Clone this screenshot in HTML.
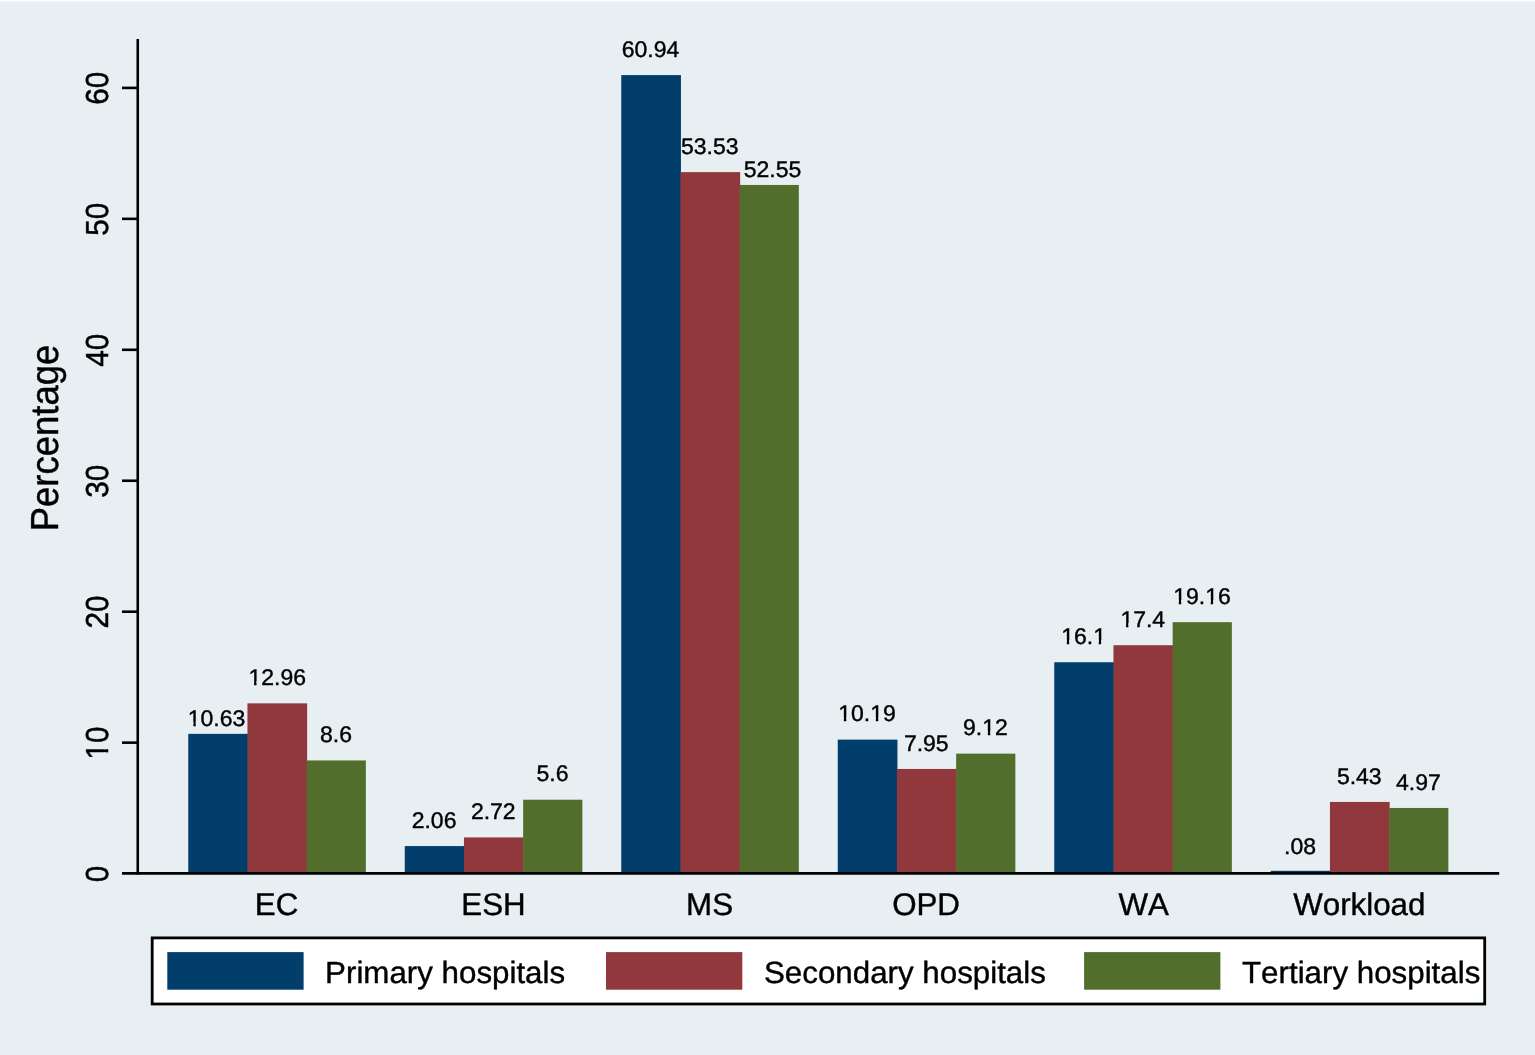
<!DOCTYPE html>
<html lang="en"><head><meta charset="utf-8"><title>Percentage by hospital level</title>
<style>
html,body{margin:0;padding:0;background:#e8eff2;}
body{width:1535px;height:1055px;overflow:hidden;}
svg{display:block;}
text{font-family:"Liberation Sans",sans-serif;fill:#000;text-rendering:geometricPrecision;font-kerning:none;}
</style></head><body>
<svg width="1535" height="1055" viewBox="0 0 1535 1055">
<rect x="0" y="0" width="1535" height="1055" fill="#e8eff2"/>
<rect x="0" y="0" width="1535" height="1" fill="#f8fcfd"/>
<rect x="0" y="1" width="1535" height="1" fill="#eff3f5"/>
<rect x="0" y="2" width="1535" height="2" fill="#e9eef1"/>
<g shape-rendering="geometricPrecision">
<rect x="188.25" y="733.86" width="59.70" height="139.54" fill="#023e6c"/>
<rect x="247.45" y="703.35" width="59.70" height="170.05" fill="#90383c"/>
<rect x="306.65" y="760.44" width="59.20" height="112.96" fill="#526e2c"/>
<rect x="404.75" y="846.08" width="59.70" height="27.32" fill="#023e6c"/>
<rect x="463.95" y="837.43" width="59.70" height="35.97" fill="#90383c"/>
<rect x="523.15" y="799.72" width="59.20" height="73.68" fill="#526e2c"/>
<rect x="621.25" y="75.10" width="59.70" height="798.30" fill="#023e6c"/>
<rect x="680.45" y="172.13" width="59.70" height="701.27" fill="#90383c"/>
<rect x="739.65" y="184.96" width="59.20" height="688.44" fill="#526e2c"/>
<rect x="837.75" y="739.62" width="59.70" height="133.78" fill="#023e6c"/>
<rect x="896.95" y="768.95" width="59.70" height="104.45" fill="#90383c"/>
<rect x="956.15" y="753.63" width="59.20" height="119.77" fill="#526e2c"/>
<rect x="1054.25" y="662.24" width="59.70" height="211.16" fill="#023e6c"/>
<rect x="1113.45" y="645.21" width="59.70" height="228.19" fill="#90383c"/>
<rect x="1172.65" y="622.17" width="59.20" height="251.23" fill="#526e2c"/>
<rect x="1270.75" y="870.80" width="59.70" height="2.60" fill="#023e6c"/>
<rect x="1329.95" y="801.95" width="59.70" height="71.45" fill="#90383c"/>
<rect x="1389.15" y="807.97" width="59.20" height="65.43" fill="#526e2c"/>
</g>
<g stroke="#000" stroke-width="2.60" fill="none">
<line x1="137.75" y1="39" x2="137.75" y2="874.5"/>
<line x1="122" y1="873.40" x2="1499.2" y2="873.40"/>
<line x1="122" y1="742.65" x2="137.6" y2="742.65"/>
<line x1="122" y1="611.70" x2="137.6" y2="611.70"/>
<line x1="122" y1="480.75" x2="137.6" y2="480.75"/>
<line x1="122" y1="349.80" x2="137.6" y2="349.80"/>
<line x1="122" y1="218.85" x2="137.6" y2="218.85"/>
<line x1="122" y1="87.90" x2="137.6" y2="87.90"/>
</g>
<g font-size="29.70" text-anchor="middle" stroke="#000" stroke-width="0.5">
<g transform="translate(108.3 874.00) rotate(-90) scale(1 1.070)"><text>0</text></g>
<g transform="translate(108.3 743.05) rotate(-90) scale(1 1.070)"><text>10</text><rect x="-15.61" y="-4.47" width="6.31" height="6.72" fill="#e8eff2" stroke="none"/><rect x="-6.17" y="-4.47" width="6.07" height="6.72" fill="#e8eff2" stroke="none"/></g>
<g transform="translate(108.3 612.10) rotate(-90) scale(1 1.070)"><text>20</text></g>
<g transform="translate(108.3 481.15) rotate(-90) scale(1 1.070)"><text>30</text></g>
<g transform="translate(108.3 350.20) rotate(-90) scale(1 1.070)"><text>40</text></g>
<g transform="translate(108.3 219.25) rotate(-90) scale(1 1.070)"><text>50</text></g>
<g transform="translate(108.3 88.30) rotate(-90) scale(1 1.070)"><text>60</text></g>
</g>
<text font-size="36.50" text-anchor="middle" stroke="#000" stroke-width="0.4" transform="translate(58.2 438.0) rotate(-90) scale(1 1.070)">Percentage</text>
<g font-size="31.30" text-anchor="middle" stroke="#000" stroke-width="0.4">
<text x="276.55" y="915.0">EC</text>
<text x="493.55" y="915.0">ESH</text>
<text x="709.55" y="915.0">MS</text>
<text x="926.05" y="915.0">OPD</text>
<text x="1143.65" y="915.0">WA</text>
<text x="1359.35" y="915.0">Workload</text>
</g>
<g font-size="23.00" text-anchor="middle" stroke="#000" stroke-width="0.4">
<g transform="translate(216.55 725.56) scale(1 0.980)"><text>10.63</text><rect x="-28.33" y="-3.92" width="5.13" height="6.12" fill="#e8eff2" stroke="none"/><rect x="-20.76" y="-3.92" width="4.95" height="6.12" fill="#e8eff2" stroke="none"/></g>
<g transform="translate(277.25 685.05) scale(1 0.980)"><text>12.96</text><rect x="-28.33" y="-3.92" width="5.13" height="6.12" fill="#e8eff2" stroke="none"/><rect x="-20.76" y="-3.92" width="4.95" height="6.12" fill="#e8eff2" stroke="none"/></g>
<g transform="translate(335.95 742.14) scale(1 0.980)"><text>8.6</text></g>
<g transform="translate(434.05 827.78) scale(1 0.980)"><text>2.06</text></g>
<g transform="translate(493.25 819.13) scale(1 0.980)"><text>2.72</text></g>
<g transform="translate(552.45 781.42) scale(1 0.980)"><text>5.6</text></g>
<g transform="translate(650.55 56.80) scale(1 0.980)"><text>60.94</text></g>
<g transform="translate(709.75 153.83) scale(1 0.980)"><text>53.53</text></g>
<g transform="translate(772.55 176.66) scale(1 0.980)"><text>52.55</text></g>
<g transform="translate(867.05 721.32) scale(1 0.980)"><text>10.19</text><rect x="-28.33" y="-3.92" width="5.13" height="6.12" fill="#e8eff2" stroke="none"/><rect x="-20.76" y="-3.92" width="4.95" height="6.12" fill="#e8eff2" stroke="none"/><rect x="3.65" y="-3.92" width="5.13" height="6.12" fill="#e8eff2" stroke="none"/><rect x="11.21" y="-3.92" width="4.95" height="6.12" fill="#e8eff2" stroke="none"/></g>
<g transform="translate(926.25 750.65) scale(1 0.980)"><text>7.95</text></g>
<g transform="translate(985.45 735.33) scale(1 0.980)"><text>9.12</text><rect x="-2.75" y="-3.92" width="5.13" height="6.12" fill="#e8eff2" stroke="none"/><rect x="4.82" y="-3.92" width="4.95" height="6.12" fill="#e8eff2" stroke="none"/></g>
<g transform="translate(1083.55 643.94) scale(1 0.980)"><text>16.1</text><rect x="-21.93" y="-3.92" width="5.13" height="6.12" fill="#e8eff2" stroke="none"/><rect x="-14.37" y="-3.92" width="4.95" height="6.12" fill="#e8eff2" stroke="none"/><rect x="10.04" y="-3.92" width="5.13" height="6.12" fill="#e8eff2" stroke="none"/><rect x="17.61" y="-3.92" width="4.95" height="6.12" fill="#e8eff2" stroke="none"/></g>
<g transform="translate(1142.75 626.91) scale(1 0.980)"><text>17.4</text><rect x="-21.93" y="-3.92" width="5.13" height="6.12" fill="#e8eff2" stroke="none"/><rect x="-14.37" y="-3.92" width="4.95" height="6.12" fill="#e8eff2" stroke="none"/></g>
<g transform="translate(1201.95 603.87) scale(1 0.980)"><text>19.16</text><rect x="-28.33" y="-3.92" width="5.13" height="6.12" fill="#e8eff2" stroke="none"/><rect x="-20.76" y="-3.92" width="4.95" height="6.12" fill="#e8eff2" stroke="none"/><rect x="3.65" y="-3.92" width="5.13" height="6.12" fill="#e8eff2" stroke="none"/><rect x="11.21" y="-3.92" width="4.95" height="6.12" fill="#e8eff2" stroke="none"/></g>
<g transform="translate(1300.05 853.70) scale(1 0.980)"><text>.08</text></g>
<g transform="translate(1359.25 783.65) scale(1 0.980)"><text>5.43</text></g>
<g transform="translate(1418.45 789.67) scale(1 0.980)"><text>4.97</text></g>
</g>
<rect x="152.2" y="937.9" width="1332.5" height="66.1" fill="#fff" stroke="#000" stroke-width="2.8"/>
<rect x="167.30" y="952.1" width="136.3" height="37.6" fill="#023e6c"/>
<rect x="606.00" y="952.1" width="136.3" height="37.6" fill="#90383c"/>
<rect x="1084.10" y="952.1" width="136.3" height="37.6" fill="#526e2c"/>
<g font-size="31.30" stroke="#000" stroke-width="0.4">
<text transform="translate(325.10 982.6) scale(1 0.98)">Primary hospitals</text>
<text transform="translate(764.00 982.6) scale(1 0.98)">Secondary hospitals</text>
<text transform="translate(1242.00 982.6) scale(1 0.98)">Tertiary hospitals</text>
</g>
</svg>
</body></html>
